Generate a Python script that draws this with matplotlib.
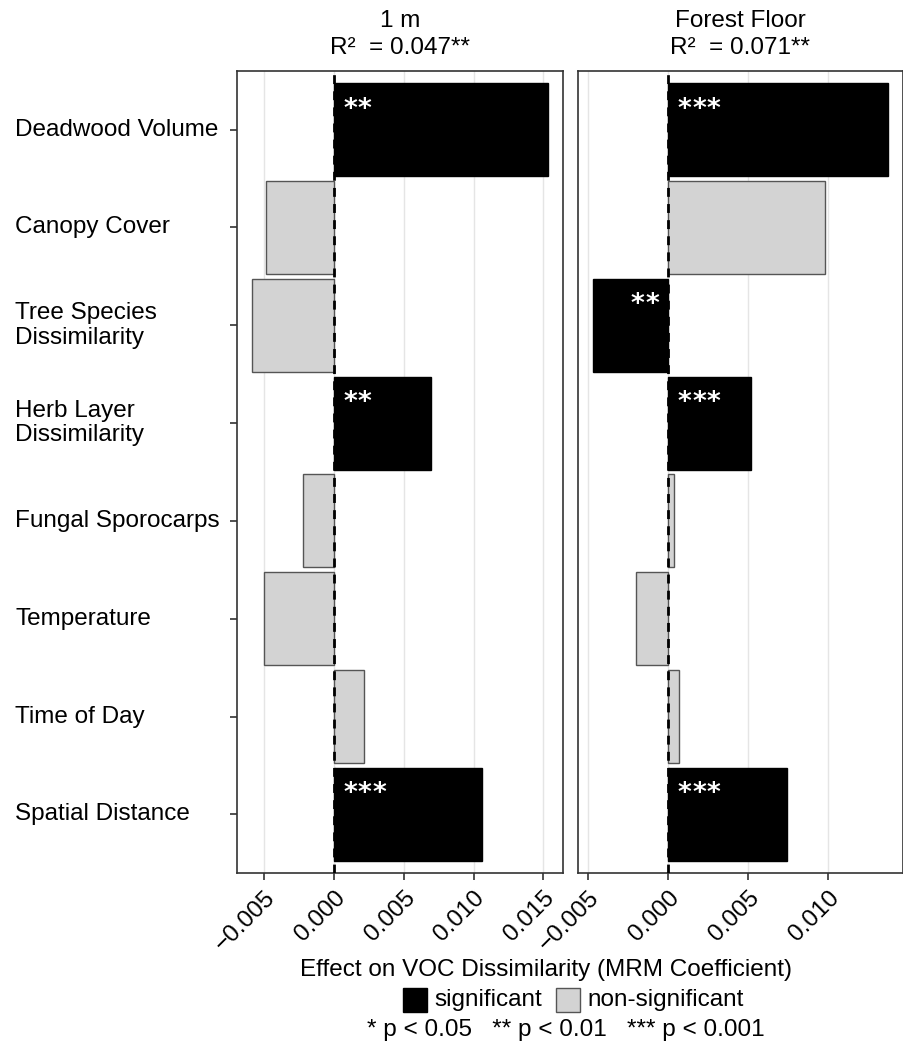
import matplotlib
matplotlib.use("Agg")
import matplotlib.pyplot as plt
import matplotlib.transforms as mtransforms
from matplotlib.patches import Rectangle
import numpy as np

plt.rcParams['font.family'] = ['Liberation Sans', 'DejaVu Sans']

# ---- data ----
predictors = ["Deadwood Volume", "Canopy Cover", "Tree Species\nDissimilarity",
              "Herb Layer\nDissimilarity", "Fungal Sporocarps", "Temperature",
              "Time of Day", "Spatial Distance"]
panel_titles = ["1 m", "Forest Floor"]
panel_r2 = ["R²  = 0.047**", "R²  = 0.071**"]
coef_1m = [0.01534, -0.00489, -0.00589, 0.00697, -0.00219, -0.00500, 0.00214, 0.01057]
sig_1m = ["**", "", "", "**", "", "", "", "***"]
coef_ff = [0.01376, 0.00978, -0.00473, 0.00519, 0.00034, -0.00200, 0.00065, 0.00742]
sig_ff = ["***", "", "**", "***", "", "", "", "***"]
ticks_1m = [-0.005, 0.000, 0.005, 0.010, 0.015]
ticks_ff = [-0.005, 0.000, 0.005, 0.010]
legend_labels = ["significant", "non-significant"]
p_note = "* p < 0.05   ** p < 0.01   *** p < 0.001"
xlabel = "Effect on VOC Dissimilarity (MRM Coefficient)"

W, H = 904, 1047
DPI = 100
fig = plt.figure(figsize=(W / DPI, H / DPI), dpi=DPI)

FS = 17.5
SIG_COL = "black"
NS_COL = "#D3D3D3"
BORDER = "#333333"

def px_axes(x0, x1, ytop, ybot):
    return fig.add_axes([x0 / W, 1 - ybot / H, (x1 - x0) / W, (ybot - ytop) / H])

ax1 = px_axes(237, 563, 71, 873)
ax2 = px_axes(578, 903, 71, 873)

n = len(predictors)
pos = np.arange(n)[::-1] + 1  # first predictor at top

STAR_STEP = 10.6  # points between star centres

for ax, coefs, sigs, ticks, title, r2, show_y in [
        (ax1, coef_1m, sig_1m, ticks_1m, panel_titles[0], panel_r2[0], True),
        (ax2, coef_ff, sig_ff, ticks_ff, panel_titles[1], panel_r2[1], False)]:
    coefs = np.array(coefs)
    colors = [SIG_COL if s else NS_COL for s in sigs]
    edges = ["black" if s else "#555555" for s in sigs]
    ax.barh(pos, coefs, height=0.95, color=colors, edgecolor=edges, linewidth=1.0, zorder=2)
    lo, hi = min(coefs.min(), 0), max(coefs.max(), 0)
    rng = hi - lo
    ax.set_xlim(lo - 0.05 * rng, hi + 0.05 * rng)
    ax.set_ylim(0.4, n + 0.6)
    ax.axvline(0, color="black", lw=2.0, linestyle=(0, (3.2, 2.6)), zorder=3)
    ax.set_xticks(ticks)
    ax.set_xticklabels([f"{t:.3f}".replace("-", "\u2212") for t in ticks],
                       rotation=45, ha="right", va="top", rotation_mode="anchor",
                       fontsize=FS, color="black")
    ax.grid(axis="x", color="#E5E5E5", lw=1.0, zorder=0)
    ax.set_axisbelow(True)
    for sp in ax.spines.values():
        sp.set_color(BORDER)
        sp.set_linewidth(1.2)
    ax.tick_params(axis="x", length=5, width=1.2, color=BORDER, pad=5)
    ax.set_yticks(pos)
    ax.set_yticklabels([])
    if show_y:
        ax.tick_params(axis="y", length=5, width=1.2, color=BORDER)
        tr = mtransforms.blended_transform_factory(fig.transFigure, ax.transData)
        for p, lab in zip(pos, predictors):
            ax.text(15 / W, p, lab, transform=tr, ha="left", va="center",
                    fontsize=FS, linespacing=1.15)
    else:
        ax.tick_params(axis="y", length=0)
    # significance stars (drawn one by one for the wide spacing)
    for p, c, s in zip(pos, coefs, sigs):
        if not s:
            continue
        k = len(s)
        for i in range(k):
            if c >= 0:
                dx = 11.5 + i * STAR_STEP
            else:
                dx = -11.5 - (k - 1 - i) * STAR_STEP
            ax.annotate("*", xy=(0, p + 0.475), xytext=(dx, -24), textcoords="offset points",
                        ha="center", va="baseline", color="white",
                        fontsize=19, fontweight="bold", family="DejaVu Sans", zorder=4)
    # titles
    bb = ax.get_position()
    cx = (bb.x0 + bb.x1) / 2
    fig.text(cx, 1 - 21 / H, title, ha="center", va="center", fontsize=FS)
    fig.text(cx, 1 - 48 / H, r2, ha="center", va="center", fontsize=FS)

# x label
fig.text(546 / W, 1 - 970 / H, xlabel, ha="center", va="center", fontsize=FS)

# legend
box = 24
for x0, col, ec, lab in [(403, SIG_COL, "black", legend_labels[0]),
                         (556, NS_COL, "#555555", legend_labels[1])]:
    r = Rectangle((x0 / W, 1 - (1000 + box / 2) / H), box / W, box / H,
                  transform=fig.transFigure, facecolor=col, edgecolor=ec, lw=1.0)
    fig.patches.append(r)
    fig.text((x0 + box + 7) / W, 1 - 1000 / H, lab, ha="left", va="center", fontsize=FS)

fig.text(566 / W, 1 - 1030 / H, p_note, ha="center", va="center", fontsize=FS)

fig.savefig("out.png", dpi=DPI)
